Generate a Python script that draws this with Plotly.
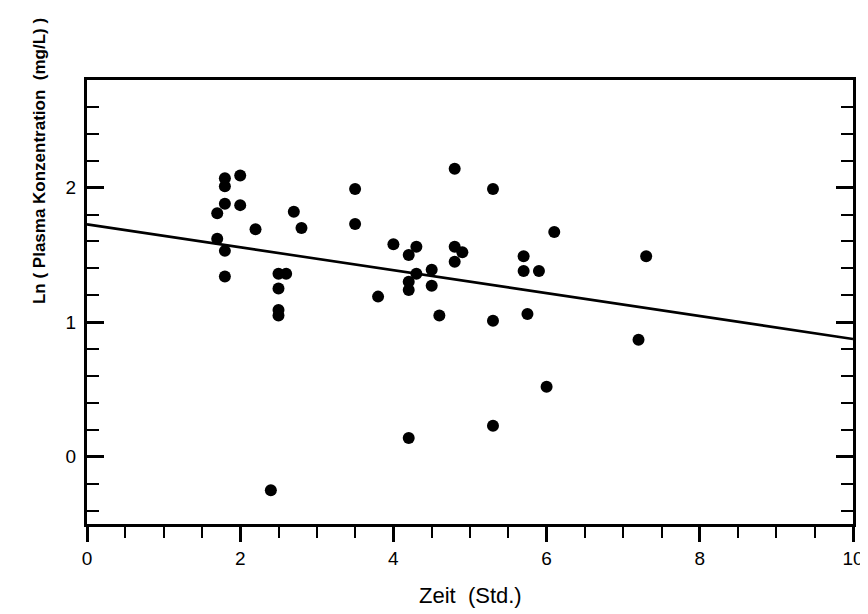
import plotly.graph_objects as go

# Data
zeit = [1.80, 1.80, 2.00, 1.80, 2.00, 1.70, 2.20, 1.70, 1.80, 1.80,
        2.50, 2.60, 2.50, 2.50, 2.50, 2.70, 2.80, 3.50, 3.50, 4.80,
        5.30, 4.00, 4.30, 4.20, 4.80, 4.90, 4.80, 5.70, 4.30, 4.50,
        4.20, 4.20, 4.50, 5.70, 5.90, 3.80, 4.60, 5.30, 5.75, 6.10,
        6.00, 7.20, 7.30, 2.40, 4.20, 5.30]
ln_konz = [2.07, 2.01, 2.09, 1.88, 1.87, 1.81, 1.69, 1.62, 1.53, 1.34,
           1.36, 1.36, 1.25, 1.09, 1.05, 1.82, 1.70, 1.99, 1.73, 2.14,
           1.99, 1.58, 1.56, 1.50, 1.56, 1.52, 1.45, 1.49, 1.36, 1.39,
           1.30, 1.24, 1.27, 1.38, 1.38, 1.19, 1.05, 1.01, 1.06, 1.67,
           0.52, 0.87, 1.49, -0.25, 0.14, 0.23]

fit_x = [0, 10]
fit_y = [1.727, 0.875]

x_ticks = [0, 2, 4, 6, 8, 10]
y_ticks = [0, 1, 2]

FONT = "Liberation Sans, Arial, sans-serif"

fig = go.Figure()
fig.add_trace(go.Scatter(x=fit_x, y=fit_y, mode="lines",
                         line=dict(color="black", width=2.6),
                         showlegend=False, hoverinfo="skip"))
fig.add_trace(go.Scatter(x=zeit, y=ln_konz, mode="markers",
                         marker=dict(color="black", size=12, line=dict(width=0)),
                         showlegend=False))

fig.update_layout(
    width=868, height=614,
    margin=dict(l=79, r=17, t=72, b=98),
    paper_bgcolor="white", plot_bgcolor="white",
    font=dict(family=FONT, size=19, color="black"),
    xaxis=dict(range=[0, 10], tickvals=x_ticks, ticktext=[str(v) for v in x_ticks],
               ticks="outside", ticklen=15, tickwidth=3, tickcolor="black",
               showline=True, linewidth=3, linecolor="black", mirror=True,
               showgrid=False, zeroline=False,
               minor=dict(dtick=0.5, ticks="outside", ticklen=11, tickwidth=1.5,
                          tickcolor="black", showgrid=False),
               tickfont=dict(size=19), ticklabelstandoff=0),
    yaxis=dict(range=[-0.5, 2.8], tickvals=y_ticks, ticktext=[str(v) for v in y_ticks],
               ticks="inside", ticklen=17, tickwidth=3, tickcolor="black",
               showline=True, linewidth=3, linecolor="black", mirror="ticks",
               showgrid=False, zeroline=False,
               minor=dict(tick0=0, dtick=0.2, ticks="inside", ticklen=12, tickwidth=1.5,
                          tickcolor="black", showgrid=False),
               tickfont=dict(size=19), ticklabelstandoff=4),
    annotations=[
        dict(text="Ln ( Plasma Konzentration  (mg/L) )", textangle=-90,
             xref="paper", yref="paper", x=(38 - 86) / 767, y=(523 - 160) / 444,
             xanchor="center", yanchor="middle", showarrow=False,
             font=dict(family=FONT, size=17, color="black", weight="bold")),
        dict(text="Zeit  (Std.)",
             xref="paper", yref="paper", x=0.5, y=-(594 - 523) / 444,
             xanchor="center", yanchor="middle", showarrow=False,
             font=dict(family=FONT, size=22, color="black")),
    ],
)

fig.write_html("out.html")
